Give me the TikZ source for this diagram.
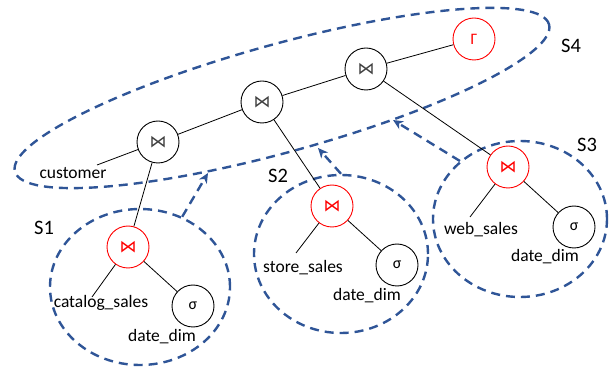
\documentclass[tikz,border=0pt]{standalone}
\usepackage{fontspec}
\setmainfont{Carlito}
\newfontfamily\symfont{DejaVu Sans}
\usetikzlibrary{shapes.geometric,arrows.meta}
\definecolor{sblue}{HTML}{2F5597}
\begin{document}
\begin{tikzpicture}[x=1pt,y=-1pt,
  op/.style={circle,draw,fill=white,line width=0.9pt,minimum size=42pt,inner sep=0pt},
  redop/.style={op,draw=red,text=red},
  bow/.style={font=\symfont\fontsize{17}{17}\selectfont},
  greek/.style={font=\fontsize{16}{16}\selectfont},
  lbl/.style={font=\fontsize{17.5}{20}\selectfont,inner sep=0pt},
  slbl/.style={font=\fontsize{20.5}{24}\selectfont,inner sep=0pt},
  grp/.style={ellipse,draw=sblue,dash pattern=on 9pt off 6pt,line width=2.4pt,inner sep=0pt},
  treeline/.style={line width=0.8pt},
  flow/.style={draw=sblue,dash pattern=on 9pt off 6pt,line width=2.4pt,-{Stealth[length=10pt,width=9pt,inset=3pt]}}
]
\useasboundingbox (0,0) rectangle (616,371);
% groups
\node[grp,minimum width=554pt,minimum height=108pt,rotate=15.4] (s4) at (282,98) {};
\node[grp,minimum width=180pt,minimum height=156pt] (s1) at (140,287) {};
\node[grp,minimum width=174pt,minimum height=158pt] (s2) at (341,254) {};
\node[grp,minimum width=174pt,minimum height=156pt] (s3) at (520,219) {};
% operators
\node[op,bow,text=black!75] (j1) at (158,142) {⋈};
\node[op,bow,text=black!75] (j2) at (262,102) {⋈};
\node[op,bow,text=black!75] (j3) at (366,69) {⋈};
\node[redop,greek] (g) at (474,39) {Γ};
\node[redop,bow] (r1) at (128,247) {⋈};
\node[op,greek] (sg1) at (193,306) {σ};
\node[redop,bow] (r2) at (332,206) {⋈};
\node[op,greek] (sg2) at (397,265) {σ};
\node[redop,bow] (r3) at (508,167) {⋈};
\node[op,greek] (sg3) at (574,227) {σ};
% labels
\node[lbl] (cust) at (73,173) {customer};
\node[lbl] (cat) at (101,303) {catalog\_sales};
\node[lbl] (dd1) at (162,337) {date\_dim};
\node[lbl] (ss) at (303,268) {store\_sales};
\node[lbl] (dd2) at (367,296) {date\_dim};
\node[lbl] (ws) at (481,230) {web\_sales};
\node[lbl] (dd3) at (545,257) {date\_dim};
\node[slbl] (l1) at (44,228) {S1};
\node[slbl] (l2) at (278,176) {S2};
\node[slbl] (l3) at (587,145) {S3};
\node[slbl] (l4) at (571,46) {S4};
% tree edges
\draw[treeline] (j1) -- ([shift={(24,-8)}]cust.center);
\draw[treeline] (j1) -- (j2);
\draw[treeline] (j2) -- (j3);
\draw[treeline] (j3) -- (g);
\draw[treeline] (j1) -- (r1);
\draw[treeline] (j2) -- (r2);
\draw[treeline] (j3) -- (r3);
\draw[treeline] (r1) -- ([shift={(-9,-6)}]cat.center);
\draw[treeline] (r1) -- (sg1);
\draw[treeline] (r2) -- ([shift={(-7,-15)}]ss.center);
\draw[treeline] (r2) -- (sg2);
\draw[treeline] (r3) -- ([shift={(-11,-13)}]ws.center);
\draw[treeline] (r3) -- (sg3);
% flows
\coordinate (t1) at (208,173);
\coordinate (t2) at (318,148);
\coordinate (t3) at (393,120);
\draw[flow] (s1.59) -- (t1);
\draw[flow] (s2.90) -- (t2);
\draw[flow] (s3.136) -- (t3);
\end{tikzpicture}
\end{document}
